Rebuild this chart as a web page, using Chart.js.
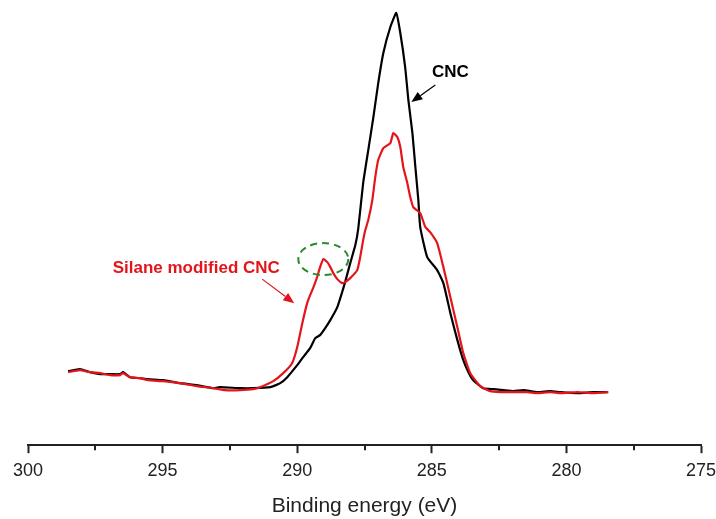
<!DOCTYPE html>
<html>
<head>
<meta charset="utf-8">
<script src="https://cdn.jsdelivr.net/npm/chart.js@4/dist/chart.umd.min.js"></script>
<style>
  html, body { margin: 0; padding: 0; background: #fff; }
  #wrap { width: 716px; height: 519px; position: relative; }
</style>
</head>
<body>
<div id="wrap"><canvas id="xps"></canvas></div>
<script>
'use strict';

// C1s spectra (binding energy in eV, intensity in a.u.)
var cncEnergy = [298.51, 298.07, 297.70, 297.32, 296.95, 296.58, 296.47, 296.21, 295.84, 295.54,
    294.98, 294.35, 293.72, 293.12, 292.86, 292.12, 291.64, 291.00, 290.63, 290.37,
    290.00, 289.78, 289.52, 289.33, 289.15, 288.96, 288.77, 288.51, 288.33, 288.22,
    288.03, 287.84, 287.73, 287.55, 287.36, 287.17, 286.99, 286.80, 286.54, 286.32,
    286.17, 285.99, 285.87, 285.72, 285.61, 285.50, 285.43, 285.17, 284.80, 284.57,
    284.31, 284.05, 283.83, 283.64, 283.46, 283.09, 282.71, 282.34, 281.97, 281.60,
    281.08, 280.59, 280.22, 279.59, 279.00, 278.48];
var cncIntensity = [74, 76, 73, 71, 71, 71, 73, 68, 67, 66,
    65, 62, 60, 57, 58, 57, 57, 58, 62, 68,
    80, 88, 97, 107, 110, 117, 125, 138, 153, 163,
    182, 200, 217, 262, 295, 328, 362, 392, 418, 432,
    412, 378, 345, 312, 278, 245, 218, 188, 175, 162,
    132, 105, 85, 73, 65, 57, 56, 55, 54, 55,
    53, 54, 53, 52, 53, 53];

var silaneEnergy = [298.51, 298.07, 297.70, 297.32, 296.95, 296.58, 296.47, 296.21, 295.84, 295.54,
    294.98, 294.35, 293.72, 293.12, 292.68, 292.12, 291.64, 291.38, 290.89, 290.52,
    290.19, 290.00, 289.81, 289.63, 289.52, 289.41, 289.26, 289.15, 289.03, 288.88,
    288.77, 288.66, 288.51, 288.33, 288.22, 288.03, 287.77, 287.66, 287.55, 287.47,
    287.36, 287.21, 287.10, 286.99, 286.80, 286.54, 286.43, 286.28, 286.17, 286.06,
    285.91, 285.80, 285.69, 285.43, 285.24, 285.06, 284.80, 284.57, 284.31, 284.05,
    283.83, 283.57, 283.20, 282.83, 282.45, 282.19, 281.45, 281.08, 280.59, 280.22,
    279.59, 279.00, 278.44];
var silaneIntensity = [73, 75, 73, 72, 70, 70, 72, 68, 67, 65,
    64, 62, 59, 57, 55, 55, 56, 58, 64, 72,
    82, 98, 122, 142, 150, 157, 168, 178, 186, 183,
    178, 172, 166, 162, 163, 167, 175, 188, 205, 215,
    225, 245, 268, 285, 297, 302, 312, 308, 298, 278,
    262, 248, 238, 232, 218, 213, 202, 178, 148, 118,
    92, 72, 59, 54, 53, 53, 53, 52, 53, 52,
    53, 52, 53];

var seriesNames = ['CNC', 'Silane modified CNC'];
var axisTitle = 'Binding energy (eV)';
var xMin = 275, xMax = 300, xStep = 2.5, labelStep = 5;

var BLACK = '#000000';
var RED = '#e3151a';
var GREEN = '#2c8a2c';
var FONT = '"Liberation Sans", Arial, sans-serif';

function toPoints(xs, ys) {
    return xs.map(function(x, i) {
        return { x: x, y: ys[i] };
    });
}

// annotations, placed in data units
var notes = {
    cncLabel: { x: 284.31, y: 373 },
    cncArrow: { from: [284.87, 360], to: [285.76, 343] },
    silaneLabel: { x: 293.75, y: 177 },
    silaneArrow: { from: [291.30, 166], to: [290.11, 142] },
    ring: { x: 289.03, y: 186, rx: 0.93, ry: 16 }
};

function drawArrow(ctx, x1, y1, x2, y2, color, width) {
    var ang = Math.atan2(y2 - y1, x2 - x1);
    var headLen = 11, headW = 4.5;
    var bx = x2 - headLen * Math.cos(ang), by = y2 - headLen * Math.sin(ang);
    ctx.save();
    ctx.strokeStyle = color;
    ctx.fillStyle = color;
    ctx.lineWidth = width;
    ctx.beginPath();
    ctx.moveTo(x1, y1);
    ctx.lineTo(bx, by);
    ctx.stroke();
    ctx.beginPath();
    ctx.moveTo(x2, y2);
    ctx.lineTo(bx + headW * Math.sin(ang), by - headW * Math.cos(ang));
    ctx.lineTo(bx - headW * Math.sin(ang), by + headW * Math.cos(ang));
    ctx.closePath();
    ctx.fill();
    ctx.restore();
}

var annotationPlugin = {
    id: 'xpsNotes',
    afterDraw: function(chart) {
        var ctx = chart.ctx,
            xs = chart.scales.x,
            ys = chart.scales.y;
        function px(v) { return xs.getPixelForValue(v); }
        function py(v) { return ys.getPixelForValue(v); }

        // minor ticks, shorter than the labelled ones
        ctx.save();
        ctx.strokeStyle = '#222';
        ctx.lineWidth = 2;
        var bottom = chart.chartArea.bottom;
        for (var v = xMin + xStep; v < xMax; v += 2 * xStep) {
            var x = Math.round(px(v));
            ctx.beginPath();
            ctx.moveTo(x, bottom);
            ctx.lineTo(x, bottom + 5);
            ctx.stroke();
        }
        ctx.restore();

        ctx.save();
        ctx.font = 'bold 17px ' + FONT;
        ctx.textAlign = 'center';
        ctx.textBaseline = 'middle';
        ctx.fillStyle = BLACK;
        ctx.fillText(seriesNames[0], px(notes.cncLabel.x), py(notes.cncLabel.y));
        ctx.fillStyle = RED;
        ctx.fillText(seriesNames[1], px(notes.silaneLabel.x), py(notes.silaneLabel.y));
        ctx.restore();

        drawArrow(ctx, px(notes.cncArrow.from[0]), py(notes.cncArrow.from[1]),
            px(notes.cncArrow.to[0]), py(notes.cncArrow.to[1]), BLACK, 1.2);
        drawArrow(ctx, px(notes.silaneArrow.from[0]), py(notes.silaneArrow.from[1]),
            px(notes.silaneArrow.to[0]), py(notes.silaneArrow.to[1]), RED, 1.2);

        var r = notes.ring;
        var cx = px(r.x), cy = py(r.y);
        var rx = Math.abs(px(r.x + r.rx) - cx), ry = Math.abs(py(r.y + r.ry) - cy);
        ctx.save();
        ctx.strokeStyle = GREEN;
        ctx.lineWidth = 2;
        ctx.setLineDash([7, 5]);
        ctx.beginPath();
        ctx.ellipse(cx, cy, rx, ry, 0, 0, Math.PI * 2);
        ctx.stroke();
        ctx.restore();
    }
};

new Chart(document.getElementById('xps'), {
    type: 'line',
    data: {
        datasets: [{
            label: seriesNames[1],
            data: toPoints(silaneEnergy, silaneIntensity),
            borderColor: RED,
            borderWidth: 2.2,
            pointRadius: 0,
            tension: 0.15,
            order: 0
        }, {
            label: seriesNames[0],
            data: toPoints(cncEnergy, cncIntensity),
            borderColor: BLACK,
            borderWidth: 2.2,
            pointRadius: 0,
            tension: 0.15,
            order: 1
        }]
    },
    options: {
        responsive: true,
        maintainAspectRatio: false,
        animation: false,
        events: [],
        layout: {
            padding: { top: 5, left: 28, right: 15, bottom: 0 }
        },
        plugins: {
            legend: { display: false },
            tooltip: { enabled: false }
        },
        scales: {
            x: {
                type: 'linear',
                reverse: true,
                min: xMin,
                max: xMax,
                // let the end labels hang over the layout padding
                afterFit: function(scale) {
                    scale.paddingLeft = 0;
                    scale.paddingRight = 0;
                },
                ticks: {
                    stepSize: xStep,
                    autoSkip: false,
                    maxRotation: 0,
                    padding: 7,
                    color: '#222',
                    font: { family: FONT, size: 18 },
                    callback: function(value) {
                        return value % labelStep === 0 ? String(value) : '';
                    }
                },
                grid: {
                    drawOnChartArea: false,
                    drawTicks: true,
                    tickLength: 8,
                    tickWidth: 2,
                    tickColor: function(ctx) {
                        return ctx.tick && ctx.tick.value % labelStep === 0 ? '#222' : 'rgba(0,0,0,0)';
                    }
                },
                border: { display: true, color: '#222', width: 2 },
                title: {
                    display: true,
                    text: axisTitle,
                    color: '#222',
                    font: { family: FONT, size: 21 },
                    padding: { top: 5, bottom: 0 }
                }
            },
            y: {
                display: false,
                min: 0,
                max: 440
            }
        }
    },
    plugins: [annotationPlugin]
});
</script>
</body>
</html>
